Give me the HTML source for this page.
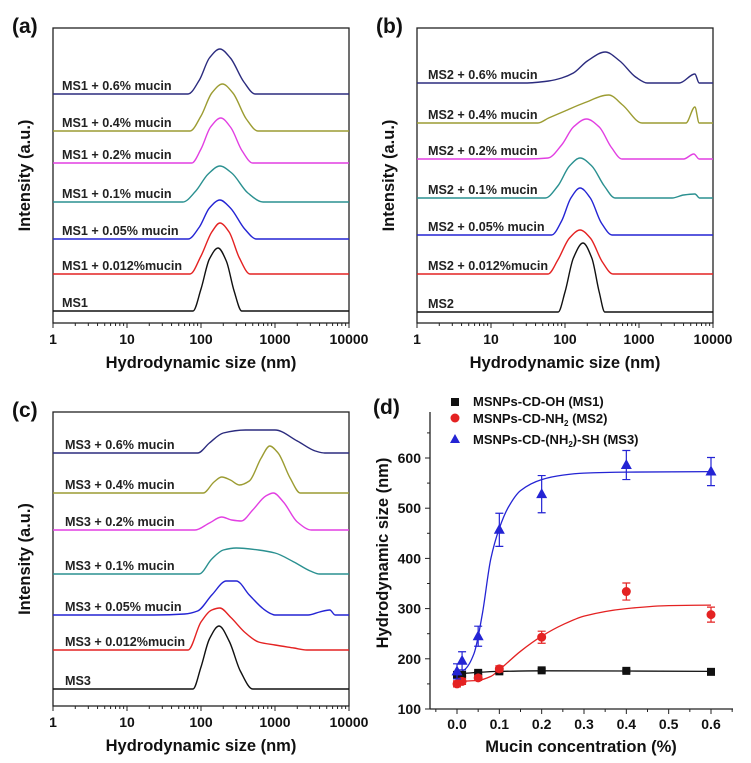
<!DOCTYPE html>
<html><head><meta charset="utf-8"><style>
html,body{margin:0;padding:0;background:#fff;}
svg{display:block;font-family:"Liberation Sans",Arial,sans-serif;font-weight:bold;}
</style></head><body>
<svg id="fig" width="751" height="763" viewBox="0 0 751 763" xmlns="http://www.w3.org/2000/svg"></svg>
<script>
// ---------- DLS panel data: [size nm, intensity a.u.] ----------
const seriesLabelsA = ["MS1 + 0.6% mucin","MS1 + 0.4% mucin","MS1 + 0.2% mucin","MS1 + 0.1% mucin","MS1 + 0.05% mucin","MS1 + 0.012%mucin","MS1"];
const baselinesA = [94,131,163,202,239,274,311];
const curvesA = [
 [[1,0],[67,0],[95,14],[130,36],[180,45],[250,36],[380,12],[540,0],[10000,0]],
 [[1,0],[71,0],[100,15],[140,38],[195,47],[270,38],[410,12],[590,0],[10000,0]],
 [[1,0],[75,0],[100,14],[135,36],[185,45],[250,36],[360,12],[500,0],[10000,0]],
 [[1,0],[57,0],[85,11],[125,28],[180,36],[260,29],[430,9],[690,0],[10000,0]],
 [[1,0],[67,0],[95,12],[130,31],[180,39],[250,31],[390,10],[560,0],[10000,0]],
 [[1,0],[71,0],[100,18],[140,42],[180,51],[240,42],[330,16],[460,0],[10000,0]],
 [[1,0],[78,0],[100,22],[130,52],[170,63],[220,50],[280,20],[355,0],[10000,0]]
];
const seriesLabelsB = ["MS2 + 0.6% mucin","MS2 + 0.4% mucin","MS2 + 0.2% mucin","MS2 + 0.1% mucin","MS2 + 0.05% mucin","MS2 + 0.012%mucin","MS2"];
const baselinesB = [83,123,159,198,235,274,312];
const curvesB = [
 [[1,0],[29,0],[60,2],[90,5],[130,10],[200,22],[350,31],[550,22],[900,6],[1300,0],[3500,0],[5700,9],[6500,0],[10000,0]],
 [[1,0],[43,0],[60,5],[100,12],[180,20],[390,28],[600,18],[1100,0],[4300,0],[5700,16],[6500,0],[10000,0]],
 [[1,0],[30,0],[59,1],[90,14],[130,32],[195,40],[290,32],[420,12],[590,0],[4000,0],[5500,5],[6500,0],[10000,0]],
 [[1,0],[54,0],[80,12],[115,32],[160,40],[230,32],[340,12],[475,0],[2800,0],[4000,3],[5700,4],[6600,0],[10000,0]],
 [[1,0],[66,0],[90,14],[120,37],[160,47],[220,37],[310,12],[435,0],[10000,0]],
 [[1,0],[59,0],[80,14],[115,36],[160,44],[220,36],[320,12],[445,0],[10000,0]],
 [[1,0],[81,0],[100,20],[130,54],[175,69],[230,54],[290,20],[345,0],[10000,0]]
];
const seriesLabelsC = ["MS3 + 0.6% mucin","MS3 + 0.4% mucin","MS3 + 0.2% mucin","MS3 + 0.1% mucin","MS3 + 0.05% mucin","MS3 + 0.012%mucin","MS3"];
const baselinesC = [453,493,530,574,615,650,689];
const curvesC = [
 [[1,0],[90,0],[130,10],[200,20],[400,23],[1000,23],[2000,12],[3500,2],[4700,0],[10000,0]],
 [[1,0],[107,0],[150,11],[190,16],[250,13],[330,8],[450,12],[650,35],[850,47],[1100,40],[1600,15],[2200,0],[10000,0]],
 [[1,0],[83,0],[130,7],[190,13],[260,10],[350,9],[500,20],[750,34],[950,37],[1300,28],[2000,8],[3100,0],[10000,0]],
 [[1,0],[94,0],[140,15],[200,24],[300,26],[600,24],[1000,21],[1800,12],[3000,3],[4000,0],[10000,0]],
 [[1,0],[23,0],[60,1],[90,4],[140,20],[220,34],[300,34],[450,20],[700,6],[900,1],[1000,0],[2800,0],[4000,3],[5500,5],[6500,0],[10000,0]],
 [[1,0],[67,0],[100,28],[140,40],[180,42],[250,33],[400,17],[600,8],[1000,5],[1800,2],[2700,0],[10000,0]],
 [[1,0],[78,0],[100,22],[130,50],[175,63],[240,48],[340,18],[500,0],[10000,0]]
];
const traceColors = ["#2b2b7e","#9c9c32","#e23fe2","#2a9090","#2424d4","#e42222","#111111"];
const xTickLabels = ["1","10","100","1000","10000"];

// ---------- panel (d) data ----------
const concs = [0,0.012,0.05,0.1,0.2,0.4,0.6];
const ms1Size = [168,168,172,175,177,176,174];
const ms1Err = [3,3,3,3,3,3,3];
const ms2Size = [150,155,162,180,243,334,288];
const ms2Err = [6,6,5,6,12,17,15];
const ms3Size = [175,196,245,457,528,586,573];
const ms3Err = [15,18,20,33,37,29,28];
const fitConc1 = [0,0.1,0.2,0.6];
const fitVal1 = [170,175,176,175];
const fitConc2 = [0,0.05,0.08,0.1,0.15,0.2,0.25,0.3,0.4,0.5,0.6];
const fitVal2 = [155,157,165,178,215,245,268,285,300,306,307];
const fitConc3 = [0,0.02,0.04,0.06,0.08,0.1,0.12,0.15,0.2,0.25,0.3,0.4,0.6];
const fitVal3 = [170,180,210,290,400,460,500,535,557,566,570,572,573];
const dYTicks = [100,200,300,400,500,600];
const dXTicks = [0,0.1,0.2,0.3,0.4,0.5,0.6];

const NS="http://www.w3.org/2000/svg";
const svg=document.getElementById('fig');
function mk(tag,attrs,parent){const e=document.createElementNS(NS,tag);for(const k in attrs)e.setAttribute(k,attrs[k]);(parent||svg).appendChild(e);return e;}
function txt(s,attrs,parent){const e=mk('text',attrs,parent);e.textContent=s;return e;}
// monotone cubic (Fritsch-Carlson) through screen points
function smooth(pts){
  const n=pts.length;
  const dx=[],sl=[];
  for(let i=0;i<n-1;i++){dx.push(pts[i+1][0]-pts[i][0]);sl.push((pts[i+1][1]-pts[i][1])/dx[i]);}
  const m=new Array(n);
  m[0]=sl[0];m[n-1]=sl[n-2];
  for(let i=1;i<n-1;i++){
    if(sl[i-1]*sl[i]<=0)m[i]=0;
    else{const w1=2*dx[i]+dx[i-1],w2=dx[i]+2*dx[i-1];m[i]=(w1+w2)/(w1/sl[i-1]+w2/sl[i]);}
  }
  if(sl[0]===0)m[0]=0;
  if(sl[n-2]===0)m[n-1]=0;
  let d="M"+pts[0][0].toFixed(1)+","+pts[0][1].toFixed(1);
  for(let i=0;i<n-1;i++){
    const h=dx[i]/3;
    d+="C"+(pts[i][0]+h).toFixed(1)+","+(pts[i][1]+m[i]*h).toFixed(1)+" "+(pts[i+1][0]-h).toFixed(1)+","+(pts[i+1][1]-m[i+1]*h).toFixed(1)+" "+pts[i+1][0].toFixed(1)+","+pts[i+1][1].toFixed(1);
  }
  return d;
}

function dlsPanel(id,letter,x0,x1,y0,y1,labels,bases,curves,labelX){
  const g=mk('g',{});
  
  
  const xs=v=>x0+Math.log10(v)/4*(x1-x0);
  const lt=txt('('+letter+')',{x:x0-41,y:y0+5,'font-size':21,fill:'#111'},g);
  
  
  const box=mk('rect',{x:x0,y:y0,width:x1-x0,height:y1-y0,fill:'none',stroke:'#222','stroke-width':1.3},g);
  
  
  for(let dec=0;dec<4;dec++){for(let m=1;m<=9;m++){const v=Math.pow(10,dec)*m;const X=xs(v);
    mk('line',{x1:X,x2:X,y1:y1,y2:y1+(m===1?5:3),stroke:'#222','stroke-width':1},g);}}
  mk('line',{x1:x1,x2:x1,y1:y1,y2:y1+5,stroke:'#222','stroke-width':1},g);
  xTickLabels.forEach((s,i)=>{const t=txt(s,{x:xs(Math.pow(10,i)),y:y1+21,'font-size':14,'text-anchor':'middle',fill:'#111'},g);
    
    });
  const xt=txt('Hydrodynamic size (nm)',{x:(x0+x1)/2,y:y1+45,'font-size':16.5,'text-anchor':'middle',fill:'#111'},g);
  
  
  const yt=txt('Intensity (a.u.)',{x:0,y:0,'font-size':16.5,'text-anchor':'middle',fill:'#111',transform:'translate('+(x0-23)+','+((y0+y1)/2)+') rotate(-90)'},g);
  
  
  curves.forEach((c,i)=>{
    const pts=c.map(p=>[xs(p[0]),bases[i]-p[1]]);
    const p=mk('path',{d:smooth(pts),fill:'none',stroke:traceColors[i],'stroke-width':1.4},g);
    
    
    const l=txt(labels[i],{x:labelX,y:bases[i]-4,'font-size':12.6,fill:'#222'},g);
    
    
  });
}
dlsPanel('a','a',53,349,28,323,seriesLabelsA,baselinesA,curvesA,62);
dlsPanel('b','b',417,713,28,323,seriesLabelsB,baselinesB,curvesB,428);
dlsPanel('c','c',53,349,412,706,seriesLabelsC,baselinesC,curvesC,65);

// ---------- panel (d) ----------
(function(){
  const g=mk('g',{});
  
  
  const X=c=>457+c*(711-457)/0.6, Y=v=>709-(v-100)*0.502;
  const lt=txt('(d)',{x:373,y:414,'font-size':21,fill:'#111'},g);
  
  
  const ya=mk('line',{x1:430,x2:430,y1:412,y2:709,stroke:'#222','stroke-width':1.3},g);
  
  
  const xa=mk('line',{x1:430,x2:733,y1:709,y2:709,stroke:'#222','stroke-width':1.3},g);
  
  
  dYTicks.forEach(v=>{mk('line',{x1:425,x2:430,y1:Y(v),y2:Y(v),stroke:'#222'},g);
    mk('line',{x1:427,x2:430,y1:Y(v+50),y2:Y(v+50),stroke:'#222'},g);
    const t=txt(String(v),{x:421,y:Y(v)+5,'font-size':14,'text-anchor':'end',fill:'#111'},g);
    
    });
  dXTicks.forEach(v=>{mk('line',{x1:X(v),x2:X(v),y1:709,y2:714,stroke:'#222'},g);
    mk('line',{x1:X(v+0.05),x2:X(v+0.05),y1:709,y2:712,stroke:'#222'},g);
    const t=txt(v.toFixed(1),{x:X(v),y:729,'font-size':14,'text-anchor':'middle',fill:'#111'},g);
    
    });
  mk('line',{x1:X(-0.05),x2:X(-0.05),y1:709,y2:712,stroke:'#222'},g);
  const xt=txt('Mucin concentration (%)',{x:581,y:752,'font-size':16.5,'text-anchor':'middle',fill:'#111'},g);
  
  
  const yt=txt('Hydrodynamic size (nm)',{x:0,y:0,'font-size':16.5,'text-anchor':'middle',fill:'#111',transform:'translate(388,553) rotate(-90)'},g);
  
  
  const fits=[[fitConc1,fitVal1,'#111'],[fitConc2,fitVal2,'#e42222'],[fitConc3,fitVal3,'#2424d4']];
  fits.forEach((f,k)=>{const pts=f[0].map((c,i)=>[X(c),Y(f[1][i])]);
    const p=mk('path',{d:smooth(pts),fill:'none',stroke:f[2],'stroke-width':1.3},g);
    
    });
  const sets=[[ms1Size,ms1Err,'#111','sq'],[ms2Size,ms2Err,'#e42222','ci'],[ms3Size,ms3Err,'#2424d4','tr']];
  sets.forEach((s,k)=>{concs.forEach((c,i)=>{
    const cx=X(c),cy=Y(s[0][i]),e=s[1][i]*0.502;
    mk('path',{d:`M${cx},${cy-e}V${cy+e}M${cx-4},${cy-e}H${cx+4}M${cx-4},${cy+e}H${cx+4}`,stroke:s[2],'stroke-width':1.2,fill:'none'},g);
    let m;
    if(s[3]==='sq')m=mk('rect',{x:cx-4,y:cy-4,width:8,height:8,fill:s[2]},g);
    else if(s[3]==='ci')m=mk('circle',{cx:cx,cy:cy,r:4.5,fill:s[2]},g);
    else m=mk('polygon',{points:`${cx},${cy-6} ${cx-5.5},${cy+4} ${cx+5.5},${cy+4}`,fill:s[2]},g);
    
    
  });});
  // legend
  const lg=mk('g',{},g);
  
  
  mk('rect',{x:451,y:398,width:8,height:8,fill:'#111'},lg);
  mk('circle',{cx:455,cy:418,r:4.5,fill:'#e42222'},lg);
  mk('polygon',{points:'455,434 450,443 460,443',fill:'#2424d4'},lg);
  const l1=txt('MSNPs-CD-OH (MS1)',{x:473,y:406,'font-size':13,fill:'#111'},lg);
  
  
  const l2=mk('text',{x:473,y:423,'font-size':13,fill:'#111'},lg);
  l2.innerHTML='MSNPs-CD-NH<tspan font-size="8" dy="3">2</tspan><tspan dy="-3"> (MS2)</tspan>';
  
  
  const l3=mk('text',{x:473,y:444,'font-size':13,fill:'#111'},lg);
  l3.innerHTML='MSNPs-CD-(NH<tspan font-size="8" dy="3">2</tspan><tspan dy="-3">)-SH (MS3)</tspan>';
  
  
})();
</script>
</body></html>
